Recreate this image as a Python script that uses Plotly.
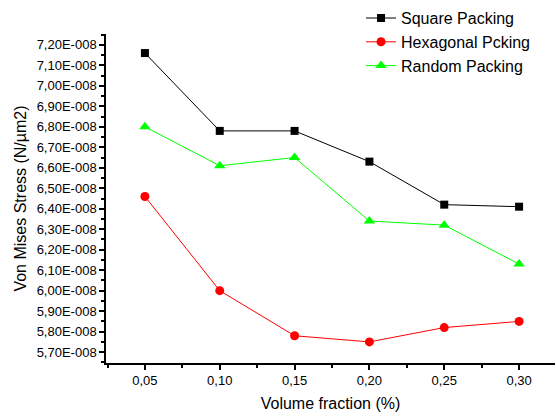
import plotly.graph_objects as go

x_vals = [0.05, 0.10, 0.15, 0.20, 0.25, 0.30]
square = [7.16e-8, 6.78e-8, 6.78e-8, 6.63e-8, 6.42e-8, 6.41e-8]
hexagonal = [6.46e-8, 6.00e-8, 5.78e-8, 5.75e-8, 5.82e-8, 5.85e-8]
random_p = [6.80e-8, 6.61e-8, 6.65e-8, 6.34e-8, 6.32e-8, 6.13e-8]

x_ticks = [0.05, 0.10, 0.15, 0.20, 0.25, 0.30]
x_tick_text = ["0,05", "0,10", "0,15", "0,20", "0,25", "0,30"]
y_ticks = [5.70e-8 + i * 0.10e-8 for i in range(16)]
y_tick_text = ["%.2fE-008" % (v * 1e8) for v in y_ticks]
y_tick_text = [t.replace(".", ",") for t in y_tick_text]

fig = go.Figure()
fig.add_trace(go.Scatter(x=x_vals, y=square, mode="lines+markers", name="Square Packing",
                         line=dict(color="black", width=1),
                         marker=dict(symbol="square", size=8, color="black")))
fig.add_trace(go.Scatter(x=x_vals, y=hexagonal, mode="lines+markers", name="Hexagonal Pcking",
                         line=dict(color="red", width=1),
                         marker=dict(symbol="circle", size=9, color="red")))
fig.add_trace(go.Scatter(x=x_vals, y=random_p, mode="lines+markers", name="Random Packing",
                         line=dict(color="#00ff00", width=1),
                         marker=dict(symbol="triangle-up", size=10, color="#00ff00")))

fig.update_layout(
    width=556, height=416,
    margin=dict(l=106, r=1, t=32, b=53),
    paper_bgcolor="white", plot_bgcolor="white",
    font=dict(family="Liberation Sans, Arial, sans-serif", color="black"),
    showlegend=True,
    legend=dict(x=0.568, y=1.1, xanchor="left", yanchor="top",
                font=dict(size=16), bgcolor="rgba(0,0,0,0)",
                tracegroupgap=0, itemwidth=30),
    xaxis=dict(range=[0.024, 0.324], tickvals=x_ticks, ticktext=x_tick_text,
               showgrid=False, zeroline=False, showline=True, linecolor="black", linewidth=1.5,
               ticks="outside", ticklen=5, tickwidth=1.5, tickcolor="black",
               tickfont=dict(size=13),
               minor=dict(dtick=0.025, tick0=0.025, ticks="outside", ticklen=3, tickcolor="black", showgrid=False),
               title=dict(text="Volume fraction (%)", font=dict(size=16), standoff=10)),
    yaxis=dict(range=[5.647e-8, 7.253e-8], tickvals=y_ticks, ticktext=y_tick_text,
               showgrid=False, zeroline=False, showline=True, linecolor="black", linewidth=1.5,
               ticks="outside", ticklen=5, tickwidth=1.5, tickcolor="black",
               tickfont=dict(size=13),
               minor=dict(dtick=0.05e-8, tick0=5.65e-8, ticks="outside", ticklen=3, tickcolor="black", showgrid=False),
               title=dict(text="Von Mises Stress (N/µm2)", font=dict(size=16), standoff=6)),
)

fig.write_html("out.html")
